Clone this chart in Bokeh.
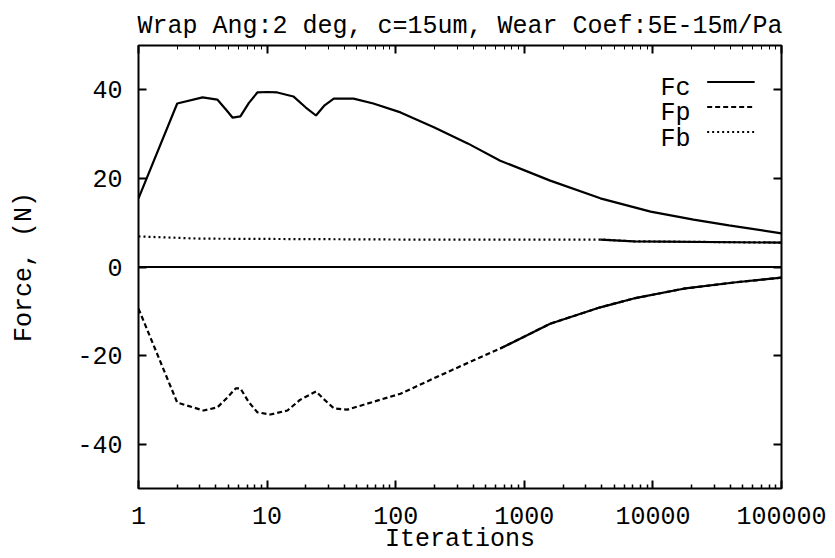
from bokeh.plotting import figure
from bokeh.models import (FixedTicker, Span, Legend, LegendItem, Label, LogAxis,
                          LinearAxis, Range1d)
from bokeh.embed import file_html
from bokeh.resources import INLINE

# ---- data ----
iter_fc = [1, 2, 3.15, 4.1, 4.8, 5.4, 6.2, 7.2, 8.4, 10, 12, 16, 20, 24, 28, 33, 47,
           67, 109, 200, 363, 650, 1590, 3900, 9600, 20700, 39000, 100000]
fc = [15.5, 36.9, 38.3, 37.8, 35.5, 33.7, 34.0, 37.0, 39.4, 39.5, 39.4, 38.5, 36.0,
      34.2, 36.5, 38.0, 38.0, 36.9, 34.9, 31.5, 27.9, 24.0, 19.5, 15.5, 12.5, 10.7,
      9.4, 7.6]

iter_fp = [1, 2, 3.2, 4.1, 4.9, 5.7, 6.2, 7.2, 8.4, 10.6, 14.4, 18, 24, 28, 33, 42,
           109, 267, 650, 1590, 3900, 7100, 17300, 42600, 100000]
fp = [-9.4, -30.6, -32.4, -31.7, -29.5, -27.4, -27.4, -30.5, -32.8, -33.3, -32.4,
      -30.0, -28.1, -30.0, -31.9, -32.2, -28.6, -23.4, -18.4, -12.8, -9.1, -7.1, -4.9,
      -3.5, -2.4]

iter_fb = [1, 3, 109, 3900, 7100, 100000]
fb = [6.9, 6.4, 6.2, 6.2, 5.8, 5.5]

series_names = ["Fc", "Fp", "Fb"]
x_ticks = [1, 10, 100, 1000, 10000, 100000]
x_tick_labels = ["1", "10", "100", "1000", "10000", "100000"]
y_ticks = [-40, -20, 0, 20, 40]
y_tick_labels = ["-40", "-20", "0", "20", "40"]
title_text = "Wrap Ang:2 deg, c=15um, Wear Coef:5E-15m/Pa"
x_label = "Iterations"
y_label = "Force, (N)"

FONT = "Liberation Mono"
FS = "25px"

minor_x = [m * d for d in [1, 10, 100, 1000, 10000] for m in range(2, 10)]

p = figure(width=835, height=558, x_axis_type="log",
           x_range=Range1d(1, 100000), y_range=Range1d(-50, 50),
           output_backend="svg", toolbar_location=None,
           min_border_left=138, min_border_right=54,
           min_border_top=45, min_border_bottom=70)

p.background_fill_color = "white"
p.border_fill_color = "white"
p.outline_line_color = "black"
p.outline_line_width = 2
p.xgrid.visible = False
p.ygrid.visible = False

p.title.text = title_text
p.title.align = "center"
p.title.text_font = FONT
p.title.text_font_size = FS
p.title.text_font_style = "normal"
p.title.text_color = "black"
p.title.standoff = 10

xa = p.xaxis[0]
xa.ticker = FixedTicker(ticks=x_ticks, minor_ticks=minor_x)
xa.major_label_overrides = {t: l for t, l in zip(x_ticks, x_tick_labels)}
ya = p.yaxis[0]
ya.ticker = FixedTicker(ticks=y_ticks)
ya.major_label_overrides = {t: l for t, l in zip(y_ticks, y_tick_labels)}

for ax in (xa, ya):
    ax.axis_line_color = None
    ax.major_tick_in = 8
    ax.major_tick_out = 0
    ax.major_tick_line_width = 2
    ax.major_tick_line_color = "black"
    ax.minor_tick_in = 4
    ax.minor_tick_out = 0
    ax.minor_tick_line_width = 1.5
    ax.minor_tick_line_color = "black"
    ax.major_label_text_font = FONT
    ax.major_label_text_font_size = FS
    ax.major_label_text_color = "black"
    ax.axis_label_text_font = FONT
    ax.axis_label_text_font_size = FS
    ax.axis_label_text_font_style = "normal"
    ax.axis_label_text_color = "black"
ya.minor_tick_line_color = None

xa.axis_label = x_label
xa.major_label_standoff = 18
xa.axis_label_standoff = -2
ya.axis_label = y_label
ya.major_label_standoff = 16
ya.axis_label_standoff = 35

# mirror axes (ticks only)
top = LogAxis(ticker=FixedTicker(ticks=x_ticks, minor_ticks=minor_x))
right = LinearAxis(ticker=FixedTicker(ticks=y_ticks))
for ax in (top, right):
    ax.axis_line_color = None
    ax.major_tick_in = 8
    ax.major_tick_out = 0
    ax.major_tick_line_width = 2
    ax.major_tick_line_color = "black"
    ax.minor_tick_in = 4
    ax.minor_tick_out = 0
    ax.minor_tick_line_color = "black"
    ax.major_label_text_font_size = "2px"
    ax.major_label_text_alpha = 0
    ax.major_label_standoff = 0
right.minor_tick_line_color = None
p.add_layout(top, "above")
p.add_layout(right, "right")

p.add_layout(Span(location=0, dimension="width", line_color="black", line_width=2))

r_fc = p.line(iter_fc, fc, line_color="black", line_width=2.2)
r_fp = p.line(iter_fp, fp, line_color="black", line_width=2.2, line_dash="5 3")
r_fb = p.line(iter_fb, fb, line_color="black", line_width=2.2, line_dash="2 3")

# the original dash pattern restarts on every (short) segment at high iteration
# counts, so those parts print as solid lines
fp_tail = [(x, y) for x, y in zip(iter_fp, fp) if x >= 650]
fb_tail = [(x, y) for x, y in zip(iter_fb, fb) if x >= 3900]
p.line([t[0] for t in fp_tail], [t[1] for t in fp_tail], line_color="black", line_width=2.2)
p.line([t[0] for t in fb_tail], [t[1] for t in fb_tail], line_color="black", line_width=2.2)

legend = Legend(items=[LegendItem(label=n, renderers=[r]) for n, r in
                       zip(series_names, [r_fc, r_fp, r_fb])],
                location="top_right", margin=24, padding=0, spacing=0,
                glyph_width=48, glyph_height=25, label_height=25, label_width=1,
                label_standoff=0, label_text_font_size="2px", label_text_alpha=0,
                border_line_color=None, background_fill_alpha=0)
p.add_layout(legend)

legend_y = [40.3, 34.7, 28.8]
for n, yv in zip(series_names, legend_y):
    p.add_layout(Label(x=19600, y=yv, text=n, text_align="right",
                       text_baseline="alphabetic", text_font=FONT, text_font_size=FS,
                       text_color="black"))

open("out.html", "w").write(file_html(p, INLINE))
